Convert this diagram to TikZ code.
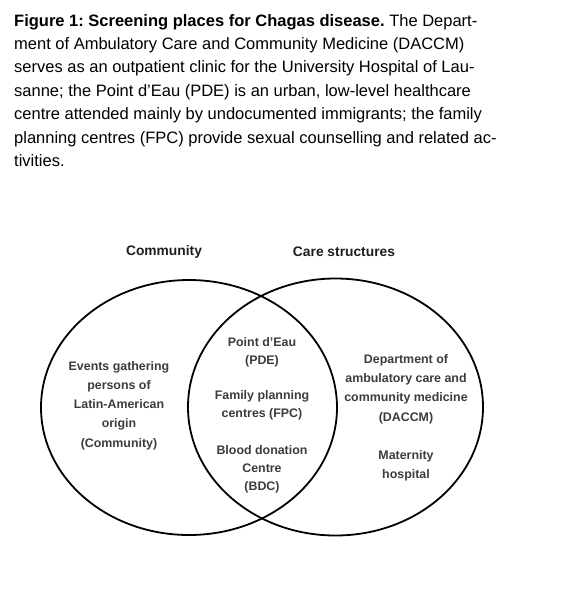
\documentclass[tikz,border=0pt]{standalone}
\usepackage{fontspec}
\setmainfont{Liberation Sans}
\definecolor{inner}{HTML}{3C3C3C}
\definecolor{ttl}{HTML}{1E1E1E}
\frenchspacing
\begin{document}
\begin{tikzpicture}[x=1pt,y=-1pt,
  capline/.style={anchor=base west,inner sep=0pt,font=\fontsize{16.5}{23.4}\selectfont},
  ttlstyle/.style={inner sep=0pt,text=ttl,font=\fontsize{13.8}{16}\selectfont\bfseries},
  lbl/.style={inner sep=0pt,align=center,text=inner,font=\fontsize{12.4}{19.2}\selectfont\bfseries},
  mlbl/.style={inner sep=0pt,align=center,text=inner,font=\fontsize{12.4}{18}\selectfont\bfseries},
  set/.style={draw=black,line width=1.8pt}]
\useasboundingbox (0,0) rectangle (563,606);
\fill[white] (0,0) rectangle (563,606);
% caption
\node[capline] (c1) at (14,26) {\textbf{Figure 1: Screening places for Chagas disease.} The Depart-};
\node[capline] (c2) at (14,49.4) {ment of Ambulatory Care and Community Medicine (DACCM)};
\node[capline] (c3) at (14,72.8) {serves as an outpatient clinic for the University Hospital of Lau-};
\node[capline] (c4) at (14,96.2) {sanne; the Point d’Eau (PDE) is an urban, low-level healthcare};
\node[capline] (c5) at (14,119.6) {centre attended mainly by undocumented immigrants; the family};
\node[capline] (c6) at (14,143) {planning centres (FPC) provide sexual counselling and related ac-};
\node[capline] (c7) at (14,166.4) {tivities.};
% sets
\draw[set] (189,407.5) ellipse [x radius=148, y radius=127.5];
\draw[set] (335.5,407) ellipse [x radius=147.5, y radius=128.5];
\node[ttlstyle] (t1) at (164,252) {Community};
\node[ttlstyle] (t2) at (344,252) {Care structures};
% labels
\node[lbl] (ev) at (119,405.5) {Events gathering\\persons of\\Latin-American\\origin\\(Community)};
\node[mlbl] (pde) at (262,352) {Point d’Eau\\(PDE)};
\node[mlbl] (fpc) at (262,405.5) {Family planning\\centres (FPC)};
\node[mlbl] (bdc) at (262,469) {Blood donation\\Centre\\(BDC)};
\node[lbl] (dac) at (406,389) {Department of\\ambulatory care and\\community medicine\\(DACCM)};
\node[lbl] (mat) at (406,466) {Maternity\\hospital};
\end{tikzpicture}
\end{document}
